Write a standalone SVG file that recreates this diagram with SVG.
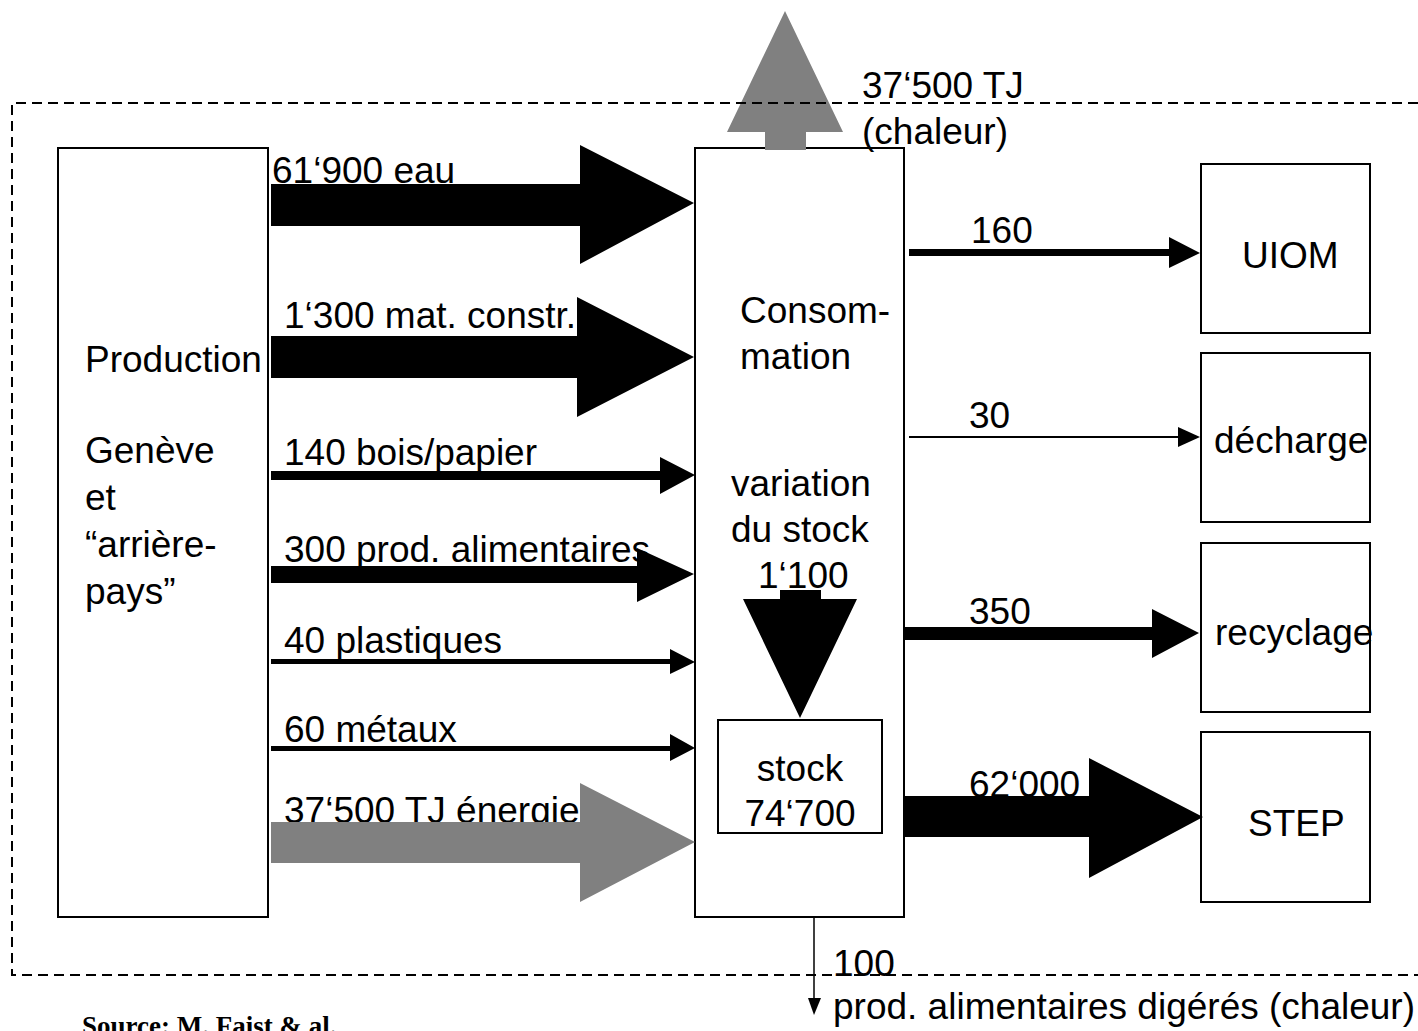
<svg xmlns="http://www.w3.org/2000/svg" width="1418" height="1031" viewBox="0 0 1418 1031">
<style>
.t{font-family:"Liberation Sans",Arial,sans-serif;font-size:37px;fill:#000}
.box{fill:#fff;stroke:#000;stroke-width:2}
.blk{fill:#000}
.gry{fill:#808080}
.dash{fill:none;stroke:#000;stroke-width:2;stroke-dasharray:10 6}
.src{font-family:"Liberation Serif","Times New Roman",serif;font-weight:bold;font-size:27px;fill:#000}
</style>
<rect width="1418" height="1031" fill="#fff"/>
<g id="production">
<rect class="box" x="58" y="148" width="210" height="769"/>
<text class="t" x="85" y="372">Production</text>
<text class="t" x="85" y="463">Genève</text>
<text class="t" x="85" y="510">et</text>
<text class="t" x="85" y="557">“arrière-</text>
<text class="t" x="85" y="604">pays”</text>
</g>
<g id="consommation">
<rect class="box" x="695" y="148" width="209" height="769"/>
<text class="t" x="740" y="323">Consom-</text>
<text class="t" x="740" y="369">mation</text>
<text class="t" x="731" y="496">variation</text>
<text class="t" x="731" y="542">du stock</text>
<text class="t" x="758" y="588">1‘100</text>
</g>
<g id="stock">
<rect class="box" x="718" y="720" width="164" height="113"/>
<text class="t" x="800" y="781" text-anchor="middle">stock</text>
<text class="t" x="800" y="826" text-anchor="middle">74‘700</text>
</g>
<g id="uiom">
<rect class="box" x="1201" y="164" width="169" height="169"/>
<text class="t" x="1242" y="268">UIOM</text>
</g>
<g id="decharge">
<rect class="box" x="1201" y="353" width="169" height="169"/>
<text class="t" x="1214" y="453">décharge</text>
</g>
<g id="recyclage">
<rect class="box" x="1201" y="543" width="169" height="169"/>
<text class="t" x="1215" y="645">recyclage</text>
</g>
<g id="step">
<rect class="box" x="1201" y="732" width="169" height="170"/>
<text class="t" x="1248" y="836">STEP</text>
</g>
<g id="labels">
<text class="t" x="272" y="183">61‘900 eau</text>
<text class="t" x="284" y="328">1‘300 mat. constr.</text>
<text class="t" x="284" y="465">140 bois/papier</text>
<text class="t" x="284" y="562">300 prod. alimentaires</text>
<text class="t" x="284" y="653">40 plastiques</text>
<text class="t" x="284" y="742">60 métaux</text>
<text class="t" x="284" y="823">37‘500 TJ énergie</text>
<text class="t" x="862" y="98">37‘500 TJ</text>
<text class="t" x="862" y="144">(chaleur)</text>
<text class="t" x="971" y="243">160</text>
<text class="t" x="969" y="428">30</text>
<text class="t" x="969" y="624">350</text>
<text class="t" x="969" y="797">62‘000</text>
<text class="t" x="833" y="976">100</text>
<text class="t" x="833" y="1019">prod. alimentaires digérés (chaleur)</text>
</g>
<g id="connectors">
<polygon class="blk" points="271,184 580,184 580,145 694,203 580,264 580,226 271,226"/>
<polygon class="blk" points="271,336 577,336 577,297 694,357 577,417 577,378 271,378"/>
<polygon class="blk" points="271,471 660,471 660,457 695,475 660,494 660,480 271,480"/>
<polygon class="blk" points="271,566 637,566 637,548 694,574 637,602 637,583 271,583"/>
<polygon class="blk" points="271,659 670,659 670,649 695,662 670,674 670,664 271,664"/>
<polygon class="blk" points="271,746 670,746 670,734 695,748 670,761 670,751 271,751"/>
<polygon class="gry" points="271,822 580,822 580,783 695,842 580,902 580,863 271,863"/>
<polygon class="gry" points="765,150 765,132 727,132 785,11 843,132 806,132 806,150"/>
<polygon class="blk" points="780,590 821,590 821,599 857,599 800,718 743,599 780,599"/>
<polygon class="blk" points="909,249 1169,249 1169,237 1200,253 1169,268 1169,256 909,256"/>
<line x1="909" y1="437" x2="1180" y2="437" stroke="#000" stroke-width="2"/>
<polygon class="blk" points="1178,427 1200,437 1178,447"/>
<polygon class="blk" points="904,627 1152,627 1152,609 1199,633 1152,658 1152,640 904,640"/>
<polygon class="blk" points="904,796 1089,796 1089,758 1203,817 1089,878 1089,837 904,837"/>
<line x1="814" y1="917" x2="814" y2="1000" stroke="#000" stroke-width="1.5"/>
<polygon class="blk" points="808,998 821,998 814,1015"/>
</g>
<g id="boundary">
<path class="dash" d="M1418,103 H12 V975 H1418"/>
</g>
<text class="src" x="82" y="1035">Source: M. Faist &amp; al.</text>
</svg>
